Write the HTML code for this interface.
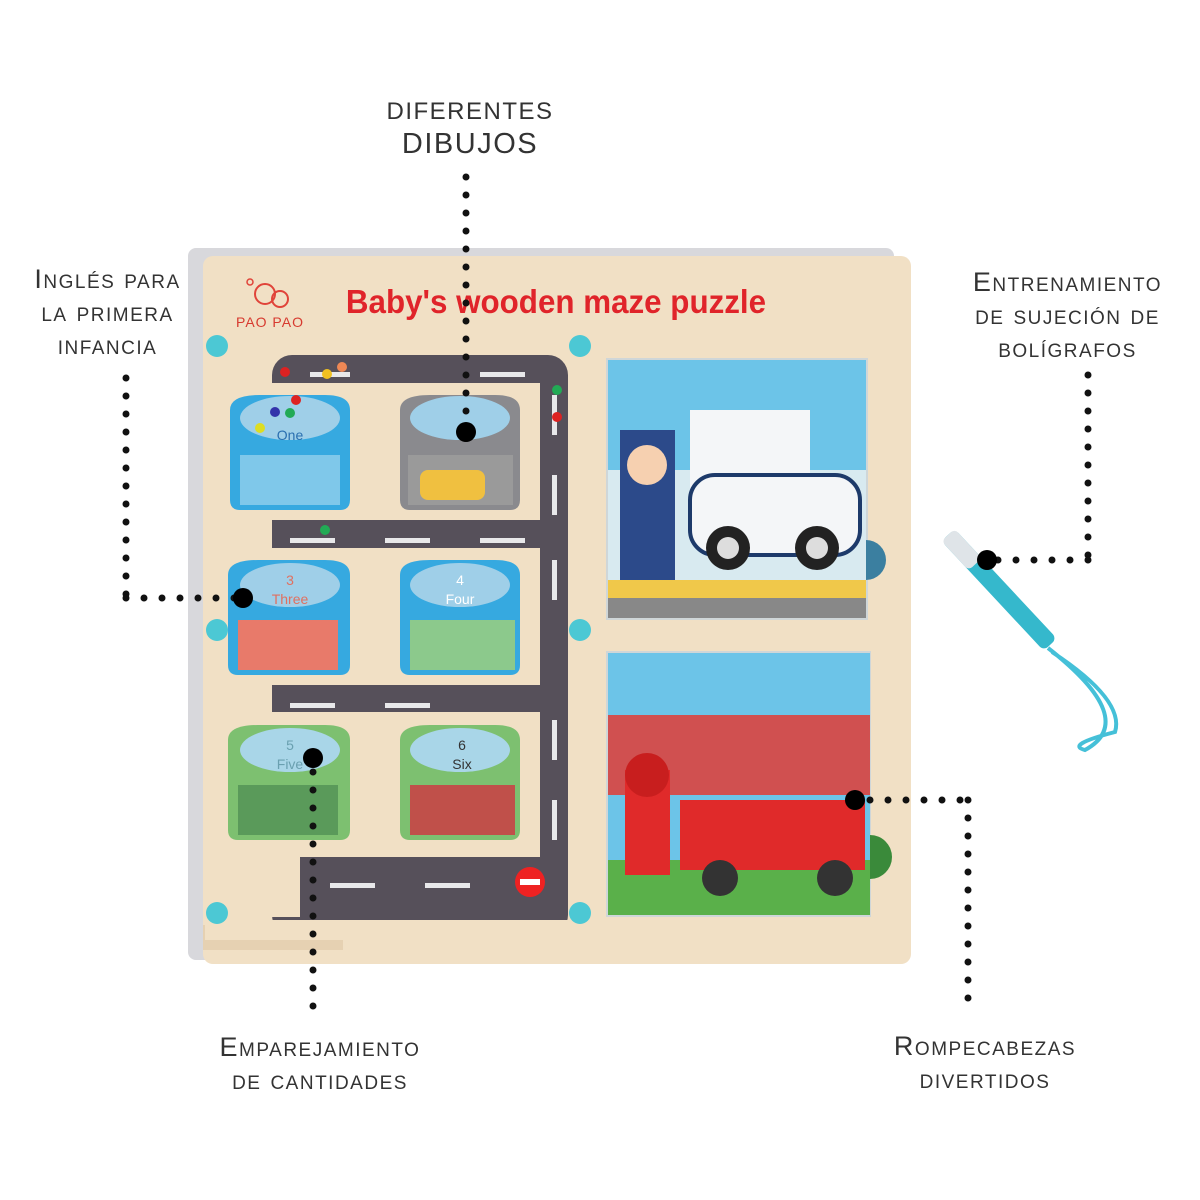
<!DOCTYPE html>
<html><head><meta charset="utf-8">
<style>
html,body{margin:0;padding:0;background:#fff;}
body{width:1200px;height:1200px;overflow:hidden;position:relative;font-family:"Liberation Sans",sans-serif;}
.lbl{position:absolute;text-align:center;color:#333;font-variant:small-caps;font-size:27px;letter-spacing:1.5px;line-height:33px;white-space:nowrap;}
</style></head><body>
<svg width="1200" height="1200" style="position:absolute;left:0;top:0">
<rect x="188" y="248" width="706" height="712" rx="8" fill="#d8d8dc"/>
<rect x="203" y="256" width="708" height="708" rx="10" fill="#f1e0c5"/>
<rect x="203" y="925" width="140" height="25" fill="#e6d1b2"/>
<circle cx="265" cy="294" r="10" fill="none" stroke="#e0443a" stroke-width="2"/>
<circle cx="280" cy="299" r="8" fill="none" stroke="#e0443a" stroke-width="2"/>
<circle cx="250" cy="282" r="3" fill="none" stroke="#e0443a" stroke-width="1.5"/>
<text x="270" y="327" font-size="14" fill="#d73a2f" text-anchor="middle" font-family="Liberation Sans" letter-spacing="1">PAO PAO</text>
<text x="0" y="0" font-size="33" font-weight="bold" fill="#e0242a" text-anchor="middle" font-family="Liberation Sans" transform="translate(556,313) scale(0.95,1)">Baby's wooden maze puzzle</text>
<rect x="272" y="355" width="296" height="580" rx="20" fill="#56505a"/>
<rect x="300" y="857" width="240" height="78" fill="#56505a"/>
<rect x="205" y="383" width="335" height="137" fill="#f1e0c5"/>
<rect x="205" y="548" width="335" height="137" fill="#f1e0c5"/>
<rect x="205" y="712" width="335" height="145" fill="#f1e0c5"/>
<rect x="205" y="857" width="95" height="60" fill="#f1e0c5"/>
<rect x="205" y="920" width="363" height="20" fill="#f1e0c5"/>
<g fill="#e8e8ea">
<rect x="310" y="372" width="40" height="5"/><rect x="480" y="372" width="45" height="5"/>
<rect x="290" y="538" width="45" height="5"/><rect x="385" y="538" width="45" height="5"/><rect x="480" y="538" width="45" height="5"/>
<rect x="290" y="703" width="45" height="5"/><rect x="385" y="703" width="45" height="5"/>
<rect x="330" y="883" width="45" height="5"/><rect x="425" y="883" width="45" height="5"/>
<rect x="552" y="395" width="5" height="40"/><rect x="552" y="475" width="5" height="40"/><rect x="552" y="560" width="5" height="40"/><rect x="552" y="720" width="5" height="40"/><rect x="552" y="800" width="5" height="40"/>
</g>
<circle cx="530" cy="882" r="15" fill="#e22"/><rect x="520" y="879" width="20" height="6" fill="#fff"/>
<g>
<path d="M230 410 Q230 395 260 395 L325 395 Q350 395 350 410 L350 500 Q350 510 340 510 L240 510 Q230 510 230 500Z" fill="#36a9e0"/>
<ellipse cx="290" cy="418" rx="50" ry="22" fill="#9fcfe8"/>
<rect x="240" y="455" width="100" height="50" fill="#7fc8ea"/>
<path d="M400 410 Q400 395 430 395 L495 395 Q520 395 520 410 L520 500 Q520 510 510 510 L410 510 Q400 510 400 500Z" fill="#8a8a8e"/>
<ellipse cx="460" cy="418" rx="50" ry="22" fill="#9fcfe8"/>
<rect x="408" y="455" width="105" height="50" fill="#9a9a9a"/>
<rect x="420" y="470" width="65" height="30" rx="8" fill="#f0c040"/>
<path d="M228 575 Q228 560 258 560 L325 560 Q350 560 350 575 L350 665 Q350 675 340 675 L238 675 Q228 675 228 665Z" fill="#36a9e0"/>
<ellipse cx="290" cy="585" rx="50" ry="22" fill="#9fcfe8"/>
<rect x="238" y="620" width="100" height="50" fill="#e87a6a"/>
<path d="M400 575 Q400 560 430 560 L495 560 Q520 560 520 575 L520 665 Q520 675 510 675 L410 675 Q400 675 400 665Z" fill="#36a9e0"/>
<ellipse cx="460" cy="585" rx="50" ry="22" fill="#9fcfe8"/>
<rect x="410" y="620" width="105" height="50" fill="#8cc98c"/>
<path d="M228 740 Q228 725 258 725 L325 725 Q350 725 350 740 L350 830 Q350 840 340 840 L238 840 Q228 840 228 830Z" fill="#7dc070"/>
<ellipse cx="290" cy="750" rx="50" ry="22" fill="#a9d6e8"/>
<rect x="238" y="785" width="100" height="50" fill="#5a9a5a"/>
<path d="M400 740 Q400 725 430 725 L495 725 Q520 725 520 740 L520 830 Q520 840 510 840 L410 840 Q400 840 400 830Z" fill="#7dc070"/>
<ellipse cx="460" cy="750" rx="50" ry="22" fill="#a9d6e8"/>
<rect x="410" y="785" width="105" height="50" fill="#c0504a"/>
</g>
<g font-family="Liberation Sans" font-size="14" text-anchor="middle">
<text x="290" y="440" fill="#2a6fb0">One</text>
<text x="290" y="585" fill="#e07060">3</text><text x="290" y="604" fill="#e07060">Three</text>
<text x="460" y="585" fill="#fff">4</text><text x="460" y="604" fill="#fff">Four</text>
<text x="290" y="750" fill="#6aa0b0">5</text><text x="290" y="769" fill="#6aa0b0">Five</text>
<text x="462" y="750" fill="#333">6</text><text x="462" y="769" fill="#333">Six</text>
</g>
<g fill="#4cc8d4">
<circle cx="217" cy="346" r="11"/><circle cx="580" cy="346" r="11"/>
<circle cx="217" cy="630" r="11"/><circle cx="580" cy="630" r="11"/>
<circle cx="217" cy="913" r="11"/><circle cx="580" cy="913" r="11"/>
</g>
<g><circle cx="285" cy="372" r="5" fill="#d22"/><circle cx="327" cy="374" r="5" fill="#f0c020"/><circle cx="342" cy="367" r="5" fill="#e85"/><circle cx="296" cy="400" r="5" fill="#d22"/><circle cx="275" cy="412" r="5" fill="#33a"/><circle cx="290" cy="413" r="5" fill="#2a5"/><circle cx="260" cy="428" r="5" fill="#dd2"/><circle cx="557" cy="417" r="5" fill="#d22"/><circle cx="557" cy="390" r="5" fill="#2a5"/><circle cx="325" cy="530" r="5" fill="#2a5"/></g>
<rect x="606" y="358" width="262" height="262" fill="#cfd6d8"/>
<rect x="608" y="360" width="258" height="258" fill="#6cc4e8"/>
<rect x="608" y="470" width="258" height="115" fill="#d8eaf0"/>
<rect x="690" y="410" width="120" height="80" fill="#f4f6f8"/>
<rect x="690" y="475" width="170" height="80" rx="25" fill="#f4f6f8" stroke="#1d3a6a" stroke-width="4"/>
<circle cx="728" cy="548" r="22" fill="#222"/><circle cx="728" cy="548" r="11" fill="#ddd"/>
<circle cx="817" cy="548" r="22" fill="#222"/><circle cx="817" cy="548" r="11" fill="#ddd"/>
<rect x="620" y="430" width="55" height="150" fill="#2c4a8a"/><circle cx="647" cy="465" r="20" fill="#f6d0b0"/>
<rect x="608" y="580" width="258" height="38" fill="#f0c84a"/>
<rect x="608" y="598" width="258" height="20" fill="#888"/>
<path d="M866 540 A20 20 0 0 1 866 580Z" fill="#3b7fa0"/>
<rect x="606" y="651" width="265" height="266" fill="#cfd6d8"/>
<rect x="608" y="653" width="262" height="262" fill="#6cc4e8"/>
<rect x="608" y="715" width="262" height="80" fill="#d05050"/>
<rect x="608" y="860" width="262" height="55" fill="#5ab04a"/>
<rect x="680" y="800" width="185" height="70" fill="#e02a2a"/>
<circle cx="720" cy="878" r="18" fill="#333"/><circle cx="835" cy="878" r="18" fill="#333"/>
<rect x="625" y="770" width="45" height="105" fill="#e02a2a"/><circle cx="647" cy="775" r="22" fill="#c81e1e"/>
<path d="M870 835 A22 22 0 0 1 870 879Z" fill="#3a8a3a"/>
<g transform="translate(948,535) rotate(47)">
<rect x="0" y="-9" width="150" height="18" rx="6" fill="#35b8cc"/>
<rect x="0" y="-9" width="40" height="18" rx="5" fill="#dfe4e8"/>
</g>
<path d="M1048 648 Q1140 720 1085 750 Q1065 745 1115 732 Q1125 700 1052 652" fill="none" stroke="#45c0d8" stroke-width="4"/>
<g stroke="#111" stroke-width="7" stroke-linecap="round" stroke-dasharray="0 18" fill="none">
<line x1="466" y1="177" x2="466" y2="420"/>
<line x1="126" y1="378" x2="126" y2="598"/>
<line x1="126" y1="598" x2="235" y2="598"/>
<line x1="313" y1="772" x2="313" y2="1015"/>
<line x1="1088" y1="375" x2="1088" y2="560"/>
<line x1="1088" y1="560" x2="995" y2="560"/>
<line x1="870" y1="800" x2="968" y2="800"/>
<line x1="968" y1="800" x2="968" y2="1015"/>
</g>
<g fill="#000">
<circle cx="466" cy="432" r="10"/><circle cx="243" cy="598" r="10"/><circle cx="313" cy="758" r="10"/>
<circle cx="987" cy="560" r="10"/><circle cx="855" cy="800" r="10"/>
</g>
</svg>
<div class="lbl" style="left:350px;top:95px;width:240px;font-size:24px;">DIFERENTES<br><span style="font-size:29px">DIBUJOS</span></div>
<div class="lbl" style="left:0px;top:263px;width:215px;">Inglés para<br>la primera<br>infancia</div>
<div class="lbl" style="left:940px;top:266px;width:255px;">Entrenamiento<br>de sujeción de<br>bolígrafos</div>
<div class="lbl" style="left:180px;top:1031px;width:280px;">Emparejamiento<br>de cantidades</div>
<div class="lbl" style="left:860px;top:1030px;width:250px;">Rompecabezas<br>divertidos</div>
</body></html>
